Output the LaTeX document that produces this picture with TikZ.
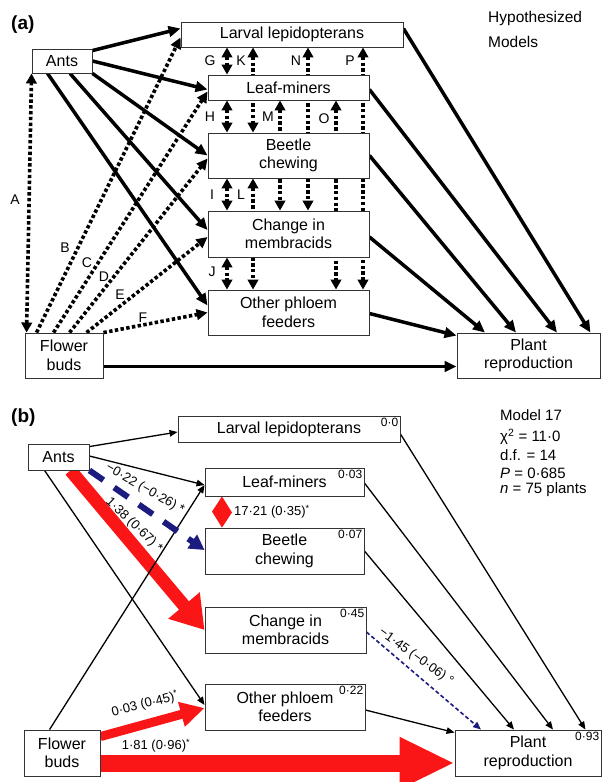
\documentclass[tikz,border=0pt]{standalone}
\usepackage{fontspec}
\setmainfont{Liberation Sans}
\usetikzlibrary{arrows.meta,calc}
\pgfdeclarelayer{bg}
\pgfsetlayers{bg,main}
\definecolor{redA}{RGB}{250,22,22}
\definecolor{blueA}{RGB}{28,28,128}
\begin{document}
\begin{tikzpicture}[x=1pt,y=-1pt,
  box/.style={draw=black!80, line width=0.9pt, fill=white, inner sep=0pt, align=center, font=\fontsize{16}{18.5}\selectfont},
  solidarr/.style={line width=3.5pt, -{Triangle[length=12pt,width=10.5pt]}},
  dasharr/.style={line width=3.6pt, dash pattern=on 3.4pt off 2.4pt, -{Triangle[length=11pt,width=10.5pt]}},
  ddarr/.style={line width=3.6pt, dash pattern=on 3.4pt off 2.4pt, {Triangle[length=10pt,width=10.5pt]}-{Triangle[length=10pt,width=10.5pt]}},
  ltr/.style={font=\fontsize{14}{16}\selectfont, inner sep=0pt},
  thinarr/.style={line width=1.3pt, -{Triangle[length=8pt,width=6.5pt]}},
  rsq/.style={anchor=north east, inner sep=2pt, font=\fontsize{12}{13}\selectfont},
  plab/.style={font=\fontsize{13}{15}\selectfont, inner sep=0pt},
  stat/.style={anchor=west, inner sep=0pt, font=\fontsize{15}{17}\selectfont},
  panel/.style={anchor=west, inner sep=0pt, font=\bfseries\fontsize{19}{21}\selectfont}
]
\useasboundingbox (0,0) rectangle (606,782);
\begin{pgfonlayer}{bg}
\fill[white] (0,0) rectangle (606,782);
\end{pgfonlayer}

% ---------------- (a) ----------------
\node[panel] (la) at (11,25) {(a)};
\node[stat, font=\fontsize{15.5}{17}\selectfont] (hyp) at (488,18) {Hypothesized};
\node[stat, font=\fontsize{15.5}{17}\selectfont] (mods) at (488,42) {Models};

\node[box, minimum width=222pt, minimum height=25pt] (lar) at (292,34.5) {Larval lepidopterans};
\node[box, minimum width=60pt, minimum height=24pt] (ants) at (62,61) {Ants};
\node[box, minimum width=161pt, minimum height=25pt] (leaf) at (288.5,87.5) {Leaf-miners};
\node[box, minimum width=161pt, minimum height=45pt] (beet) at (288.5,155.5) {Beetle\\chewing};
\node[box, minimum width=161pt, minimum height=46pt] (chg) at (288.5,234) {Change in\\membracids};
\node[box, minimum width=161pt, minimum height=45pt] (oth) at (288.5,312.5) {Other phloem\\feeders};
\node[box, minimum width=78pt, minimum height=45pt] (flw) at (64,355.5) {Flower\\buds};
\node[box, minimum width=143pt, minimum height=45pt] (plt) at (528.5,355.5) {Plant\\reproduction};

\coordinate (cG) at (227,0);
\coordinate (cK) at (253,0);
\coordinate (cM) at (280,0);
\coordinate (cN) at (308,0);
\coordinate (cO) at (336,0);
\coordinate (cP) at (363,0);

\begin{pgfonlayer}{bg}
  % vertical correlations
  \draw[ddarr] (lar.south -| cG) -- (leaf.north -| cG);
  \draw[ddarr] (lar.south -| cK) -- (beet.north -| cK);
  \draw[ddarr] (lar.south -| cN) -- (chg.north -| cN);
  \draw[ddarr] (lar.south -| cP) -- (oth.north -| cP);
  \draw[ddarr] (leaf.south -| cG) -- (beet.north -| cG);
  \draw[ddarr] (leaf.south -| cM) -- (chg.north -| cM);
  \draw[ddarr] (leaf.south -| cO) -- (oth.north -| cO);
  \draw[ddarr] (beet.south -| cG) -- (chg.north -| cG);
  \draw[ddarr] (beet.south -| cK) -- (oth.north -| cK);
  \draw[ddarr] (chg.south -| cG) -- (oth.north -| cG);
  % flower buds dashed
  \draw[ddarr] ($(flw.north west)+(2,0)$) -- (ants.south west);
  \draw[dasharr] ($(flw.north west)+(12,0)$) -- ($(lar.south west)+(0,-10)$);
  \draw[dasharr] ($(flw.north west)+(29,0)$) -- ($(leaf.west)+(0,4)$);
  \draw[dasharr] ($(flw.north west)+(45,0)$) -- ($(beet.west)+(0,3)$);
  \draw[dasharr] ($(flw.north west)+(62,0)$) -- ($(chg.west)+(0,3)$);
  \draw[dasharr] (flw.north east) -- (oth.west);
  % ants solid
  \draw[solidarr] ($(ants.north east)+(0,2)$) -- ($(lar.west)+(0,-6)$);
  \draw[solidarr] (ants.east) -- ($(leaf.west)+(0,2)$);
  \draw[solidarr] (ants.south east) -- (beet.west);
  \draw[solidarr] ($(ants.south)+(8,0)$) -- ($(chg.west)+(0,-4)$);
  \draw[solidarr] ($(ants.south west)+(16,0)$) -- ($(oth.west)+(0,-7)$);
  % to plant
  \draw[solidarr] ($(lar.east)+(0,-6)$) -- ($(plt.north east)+(-10,0)$);
  \draw[solidarr] ($(leaf.east)+(0,2)$) -- ($(plt.north)+(28.5,0)$);
  \draw[solidarr] (beet.east) -- ($(plt.north)+(-12.5,0)$);
  \draw[solidarr] ($(chg.east)+(0,3)$) -- ($(plt.north)+(-43.5,0)$);
  \draw[solidarr] ($(oth.east)+(0,1)$) -- ($(plt.north west)+(0,3)$);
  \draw[solidarr] ($(flw.east)+(0,11)$) -- ($(plt.west)+(0,11)$);
\end{pgfonlayer}

\node[ltr] (lA) at (15,200) {A};
\node[ltr] (lB) at (65,248) {B};
\node[ltr] (lC) at (87,263) {C};
\node[ltr] (lD) at (104,277) {D};
\node[ltr] (lE) at (120,295) {E};
\node[ltr] (lF) at (143,318) {F};
\node[ltr] (lG) at (210,61) {G};
\node[ltr] (lK) at (241,61) {K};
\node[ltr] (lN) at (296,61) {N};
\node[ltr] (lP) at (350,61) {P};
\node[ltr] (lH) at (210,117) {H};
\node[ltr] (lM) at (268,117) {M};
\node[ltr] (lO) at (324,119) {O};
\node[ltr] (lI) at (212,195) {I};
\node[ltr] (lL) at (241,195) {L};
\node[ltr] (lJ) at (212,272) {J};

% ---------------- (b) ----------------
\node[panel] (lb) at (11,418) {(b)};
\node[stat] (m1) at (500,415) {Model 17};
\node[stat] (m2) at (500,437) {χ\textsuperscript{2} = 11·0};
\node[stat] (m3) at (500,455) {d.f. = 14};
\node[stat] (m4) at (500,473) {\textit{P} = 0·685};
\node[stat] (m5) at (500,490) {\textit{n} = 75 plants};

\node[box, minimum width=222pt, minimum height=26pt] (lar2) at (289,429) {Larval lepidopterans};
\node[box, minimum width=61pt, minimum height=26pt] (ants2) at (58.5,457) {Ants};
\node[box, minimum width=159pt, minimum height=28pt] (leaf2) at (284.5,482) {Leaf-miners};
\node[box, minimum width=159pt, minimum height=46pt] (beet2) at (284.5,551) {Beetle\\chewing};
\node[box, minimum width=161pt, minimum height=46pt] (chg2) at (285.5,630) {Change in\\membracids};
\node[box, minimum width=160pt, minimum height=46pt] (oth2) at (285,707) {Other phloem\\feeders};
\node[box, minimum width=76pt, minimum height=46pt] (flw2) at (62,753) {Flower\\buds};
\node[box, minimum width=146pt, minimum height=46pt] (plt2) at (528,753) {Plant\\reproduction};

\node[rsq] (r1) at (lar2.north east) {0·0};
\node[rsq] (r2) at (leaf2.north east) {0·03};
\node[rsq] (r3) at (beet2.north east) {0·07};
\node[rsq] (r4) at (chg2.north east) {0·45};
\node[rsq] (r5) at (oth2.north east) {0·22};
\node[rsq] (r6) at (plt2.north east) {0·93};

\coordinate (cD) at (222,0);

\begin{pgfonlayer}{bg}
  % red paths
  \draw[redA, line width=13pt, -{Triangle[length=32pt,width=39pt]}] ($(ants2.south)+(12,0)$) -- (chg2.west);
  \draw[redA, line width=9pt, -{Triangle[length=24pt,width=24pt]}] ($(flw2.north east)+(0,7)$) -- ($(oth2.west)+(0,1)$);
  \draw[redA, line width=17pt, -{Triangle[length=55pt,width=48pt]}] ($(flw2.east)+(0,10)$) -- ($(plt2.west)+(0,10)$);
  \fill[redA] (leaf2.south -| cD) -- ++(10,16) -- (beet2.north -| cD) -- ++(-10,-16) -- cycle;
  % thin black paths
  \draw[thinarr] ($(ants2.north east)+(0,3)$) -- ($(lar2.west)+(0,3)$);
  \draw[thinarr] ($(ants2.east)+(0,-1)$) -- ($(leaf2.west)+(0,3)$);
  \draw[thinarr] ($(ants2.south west)+(17,0)$) -- ($(oth2.west)+(0,-2)$);
  \draw[thinarr] ($(flw2.north west)+(26,0)$) -- ($(leaf2.west)+(0,3)$);
  \draw[thinarr] ($(lar2.east)+(0,5)$) -- ($(plt2.north east)+(-16,0)$);
  \draw[thinarr] ($(leaf2.east)+(0,1)$) -- ($(plt2.north)+(25,0)$);
  \draw[thinarr] (beet2.east) -- ($(plt2.north)+(-14,0)$);
  \draw[thinarr] ($(oth2.east)+(0,3)$) -- ($(plt2.north west)+(0,3)$);
  % blue paths
  \draw[blueA, line width=6pt, dash pattern=on 17pt off 13pt, -{Triangle[length=15pt,width=16pt]}] (ants2.south east) -- ($(beet2.west)+(0,-1)$);
  \draw[blueA, line width=1.6pt, dash pattern=on 4pt off 2.5pt, -{Triangle[length=8pt,width=6.5pt]}] ($(chg2.east)+(0,2)$) -- ($(plt2.north)+(-47,0)$);
\end{pgfonlayer}

\node[plab, anchor=west] (p1) at (234,512) {17·21 (0·35)\textsuperscript{*}};
\node[plab, rotate=-30] (p2) at (145,489) {−0·22 (−0·26) *};
\node[plab, rotate=-44] (p3) at (134,525) {1·38 (0·67) *};
\node[plab, rotate=-36] (p4) at (416,657) {−1·45 (−0·06) °};
\node[plab, rotate=14.5] (p5) at (145,704) {0·03 (0·45)\textsuperscript{*}};
\node[plab] (p6) at (156,746) {1·81 (0·96)\textsuperscript{*}};

\end{tikzpicture}
\end{document}
